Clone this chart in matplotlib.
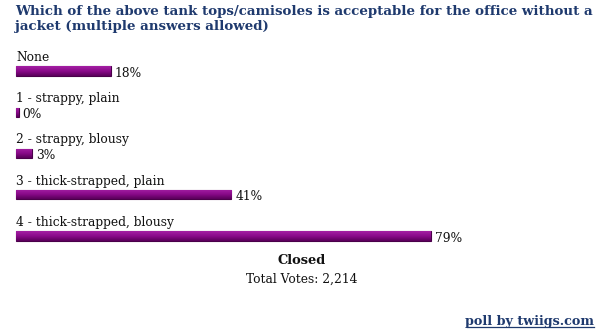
import numpy as np
import matplotlib.pyplot as plt
from matplotlib.colors import LinearSegmentedColormap

plt.rcParams['font.family'] = 'DejaVu Serif'

title = ('Which of the above tank tops/camisoles is acceptable for the office without a\n'
         'jacket (multiple answers allowed)')
options = ['None', '1 - strappy, plain', '2 - strappy, blousy',
           '3 - thick-strapped, plain', '4 - thick-strapped, blousy']
percents = [18, 0, 3, 41, 79]
status = 'Closed'
total_votes = '2,214'

W, H = 603, 334
fig = plt.figure(figsize=(W / 100, H / 100), dpi=100)
ax = fig.add_axes([0, 0, 1, 1])

# pixel layout: 0% at x=16, 5.25 px per percent; row i centred at 71 + 41.25*i
x0, px_pct = 16, 5.25
y0, px_row = 71, 41.25
ax.set_xlim(-x0 / px_pct, (W - x0) / px_pct)
ax.set_ylim((H - y0) / px_row, -y0 / px_row)
ax.axis('off')

navy = '#1f3a6e'
grad = LinearSegmentedColormap.from_list('bar', ['#a31fa3', '#8a0a8a', '#5c005c'])
bar_h = 0.22
for i, (lab, p) in enumerate(zip(options, percents)):
    w = max(p, 0.5)
    b = ax.barh(i, w, height=bar_h, left=0, color='#7a007a',
                edgecolor='#4a004a', linewidth=0.8, zorder=2)
    img = ax.imshow(np.linspace(0, 1, 20).reshape(-1, 1), cmap=grad, aspect='auto',
                    extent=(0, w, i + bar_h / 2, i - bar_h / 2), zorder=3)
    img.set_clip_path(b.patches[0])
    ax.text(0, i - 0.33, lab, fontsize=8.8, color='#111111', va='center', ha='left')
    ax.text(w + 4 / px_pct, i + 0.05, f'{p}%', fontsize=8.8, color='#111111',
            va='center', ha='left')

fig.text(15 / W, 1 - 5 / H, title, fontsize=9.6, fontweight='bold', color=navy,
         va='top', ha='left', linespacing=1.2)
fig.text(302 / W, 1 - 260 / H, status, fontsize=9.4, fontweight='bold',
         color='#111111', ha='center', va='center')
fig.text(302 / W, 1 - 279 / H, f'Total Votes: {total_votes}', fontsize=8.8,
         color='#111111', ha='center', va='center')
fig.text(594 / W, 1 - 321 / H, 'poll by twiigs.com', fontsize=9.2, fontweight='bold',
         color=navy, ha='right', va='center')
fig.add_artist(plt.Line2D([467 / W, 594 / W], [1 - 327 / H, 1 - 327 / H],
                          color=navy, linewidth=0.9))

fig.savefig('out.png', dpi=100)
